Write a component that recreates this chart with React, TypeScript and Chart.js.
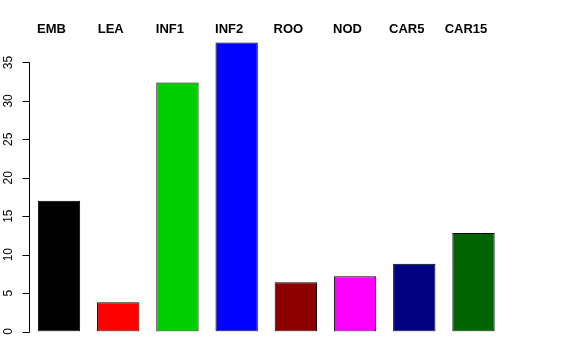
import React, { useEffect, useRef } from "react";
import { Chart, registerables } from "chart.js";

Chart.register(...registerables);

const categories = ["EMB", "LEA", "INF1", "INF2", "ROO", "NOD", "CAR5", "CAR15"];
const values = [17.0, 3.8, 32.4, 37.6, 6.4, 7.2, 8.8, 12.8];
const barColors = ["#000000", "#FF0000", "#00CD00", "#0000FF", "#8B0000", "#FF00FF", "#000080", "#006400"];
const yTicks = [0, 5, 10, 15, 20, 25, 30, 35];

const rAxisPlugin = {
  id: "rAxis",
  afterDraw(chart: any) {
    const ctx = chart.ctx;
    const y = chart.scales.y;
    const x = chart.scales.x;
    const axisX = 29.5;
    ctx.save();
    ctx.strokeStyle = "#000";
    ctx.lineWidth = 1;
    ctx.beginPath();
    ctx.moveTo(axisX, Math.round(y.getPixelForValue(yTicks[0])) + 0.5);
    ctx.lineTo(axisX, Math.round(y.getPixelForValue(yTicks[yTicks.length - 1])) + 0.5);
    for (const t of yTicks) {
      const py = Math.round(y.getPixelForValue(t)) + 0.5;
      ctx.moveTo(axisX, py);
      ctx.lineTo(axisX - 7, py);
    }
    ctx.stroke();
    ctx.fillStyle = "#000";
    ctx.font = "12px 'Liberation Sans', Arial, sans-serif";
    ctx.textAlign = "center";
    ctx.textBaseline = "alphabetic";
    for (const t of yTicks) {
      const py = y.getPixelForValue(t);
      ctx.save();
      ctx.translate(12, py);
      ctx.rotate(-Math.PI / 2);
      ctx.fillText(String(t), 0, 0);
      ctx.restore();
    }
    ctx.font = "bold 13px 'Liberation Sans', Arial, sans-serif";
    ctx.textBaseline = "middle";
    categories.forEach((c, i) => {
      const px = x.getPixelForValue(i) - 7.5;
      ctx.fillText(c, px, 29);
    });
    ctx.restore();
  },
};

export default function App() {
  const ref = useRef<HTMLCanvasElement>(null);
  useEffect(() => {
    const chart = new Chart(ref.current!, {
      type: "bar",
      data: {
        labels: categories,
        datasets: [
          {
            data: values,
            backgroundColor: barColors,
            borderColor: "#000",
            borderWidth: 1,
            borderSkipped: false,
            categoryPercentage: 1,
            barPercentage: 0.715,
          },
        ],
      },
      options: {
        animation: false,
        responsive: false,
        events: [],
        layout: { padding: { left: 29.4, right: 72.9, top: 39.4, bottom: 28.5 } },
        plugins: { legend: { display: false }, tooltip: { enabled: false } },
        scales: {
          x: { display: false, offset: true },
          y: { display: false, min: 0, max: 38 },
        },
      },
      plugins: [rAxisPlugin],
    });
    return () => chart.destroy();
  }, []);
  return (
    <div style={{ position: "fixed", left: 0, top: 0, width: 576, height: 360, background: "#fff" }}>
      <canvas ref={ref} width={576} height={360} />
    </div>
  );
}
